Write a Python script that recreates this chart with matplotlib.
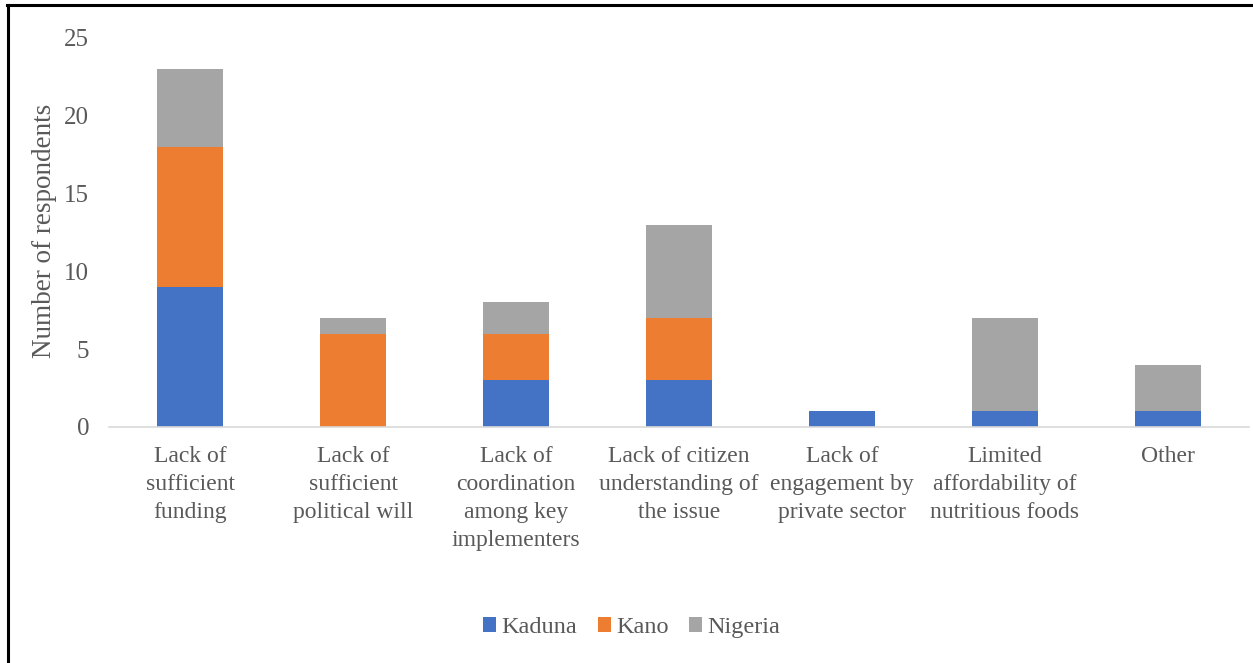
import matplotlib.pyplot as plt
from matplotlib.patches import Patch
from matplotlib.lines import Line2D
import numpy as np

categories = [
    "Lack of\nsufficient\nfunding",
    "Lack of\nsufficient\npolitical will",
    "Lack of\ncoordination\namong key\nimplementers",
    "Lack of citizen\nunderstanding of\nthe issue",
    "Lack of\nengagement by\nprivate sector",
    "Limited\naffordability of\nnutritious foods",
    "Other",
]
kaduna = [9, 0, 3, 3, 1, 1, 1]
kano = [9, 6, 3, 4, 0, 0, 0]
nigeria = [5, 1, 2, 6, 0, 6, 3]

colors = {"Kaduna": "#4472C4", "Kano": "#ED7D31", "Nigeria": "#A5A5A5"}
text_color = "#595959"

plt.rcParams["font.family"] = ["Liberation Serif", "DejaVu Serif"]

fig = plt.figure(figsize=(12.53, 6.63), dpi=100)
ax = fig.add_axes([0.0866, 0.356, 0.9106, 0.5867])

x = np.arange(len(categories))
w = 0.4
bottom = np.zeros(len(categories))
for name, vals in [("Kaduna", kaduna), ("Kano", kano), ("Nigeria", nigeria)]:
    ax.bar(x, vals, w, bottom=bottom, color=colors[name], zorder=2)
    bottom += np.array(vals)

ax.set_xlim(-0.5, len(categories) - 0.5)
ax.set_ylim(0, 25)
ax.set_yticks([0, 5, 10, 15, 20, 25])
ax.set_xticks(x)
ax.set_xticklabels(categories, fontsize=17, color=text_color, linespacing=1.43)
ax.tick_params(axis="y", length=0, pad=14, labelsize=18, labelcolor=text_color)
ax.tick_params(axis="x", length=0, pad=14)
for s in ["top", "right", "left"]:
    ax.spines[s].set_visible(False)
ax.spines["bottom"].set_color("#D9D9D9")
ax.spines["bottom"].set_linewidth(1.2)

fig.text(0.0355, 0.652, "Number of respondents", rotation=90, fontsize=19.5,
         color=text_color, ha="center", va="center")

handles = [Patch(facecolor=c, label=n) for n, c in colors.items()]
fig.legend(handles=handles, loc="center", bbox_to_anchor=(0.504, 0.053), ncol=3,
           frameon=False, fontsize=17.5, handlelength=0.55, handleheight=0.55,
           handletextpad=0.2, columnspacing=0.85, labelcolor=text_color)

# left and top frame lines
fig.add_artist(Line2D([0.0064, 0.0064], [0, 0.9925], color="black", lw=2.2,
                      transform=fig.transFigure))
fig.add_artist(Line2D([0.0056, 1], [0.9925, 0.9925], color="black", lw=2.2,
                      transform=fig.transFigure))

fig.savefig("out.png", dpi=100)
